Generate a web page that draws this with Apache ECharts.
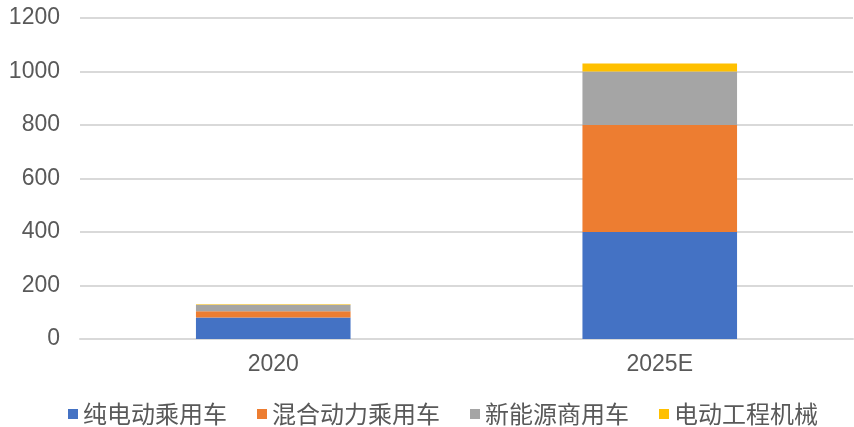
<!DOCTYPE html>
<html>
<head>
<meta charset="utf-8">
<style>
  html, body { margin: 0; padding: 0; background: #ffffff; }
  #chart { width: 854px; height: 427px; }
</style>
<script src="https://cdn.jsdelivr.net/npm/echarts@6/dist/echarts.min.js"></script>
</head>
<body>
<div id="chart"></div>
<script>
// Categories and stacked series values
var years = ['2020', '2025E'];
var seriesNames = ['纯电动乘用车', '混合动力乘用车', '新能源商用车', '电动工程机械'];
var pureEV = [80, 400];
var hybrid = [24, 400];
var commercial = [24, 200];
var machinery = [2, 30];
var yTicks = { min: 0, max: 1200, interval: 200 };

var colors = ['#4472C4', '#ED7D31', '#A5A5A5', '#FFC000'];
var valueSets = [pureEV, hybrid, commercial, machinery];

var chart = echarts.init(document.getElementById('chart'), null, { renderer: 'canvas' });

var series = seriesNames.map(function (name, i) {
  return {
    name: name,
    type: 'bar',
    stack: 'total',
    barWidth: '40%',
    itemStyle: { color: colors[i] },
    data: valueSets[i]
  };
});

chart.setOption({
  animation: false,
  backgroundColor: '#ffffff',
  color: colors,
  grid: { left: 80, right: 1, top: 18, bottom: 88, containLabel: false },
  legend: {
    left: 68,
    top: 400,
    padding: 0,
    itemWidth: 10,
    itemHeight: 10,
    itemGap: 30,
    icon: 'rect',
    textStyle: {
      color: '#595959',
      fontSize: 24,
      lineHeight: 28,
      fontFamily: "'Noto Sans CJK SC', sans-serif"
    },
    data: seriesNames
  },
  xAxis: {
    type: 'category',
    data: years,
    axisLine: { show: true, lineStyle: { color: '#d9d9d9', width: 2 } },
    axisTick: { show: false },
    axisLabel: {
      color: '#595959',
      fontSize: 23,
      margin: 14,
      fontFamily: "'Liberation Sans', 'Noto Sans CJK SC', sans-serif"
    }
  },
  yAxis: {
    type: 'value',
    min: yTicks.min,
    max: yTicks.max,
    interval: yTicks.interval,
    axisLine: { show: false },
    axisTick: { show: false },
    splitLine: { lineStyle: { color: '#d9d9d9', width: 2 } },
    axisLabel: {
      color: '#595959',
      fontSize: 23,
      margin: 20,
      formatter: function (v) { return String(v); },
      fontFamily: "'Liberation Sans', 'Noto Sans CJK SC', sans-serif"
    }
  },
  series: series
});
</script>
</body>
</html>
